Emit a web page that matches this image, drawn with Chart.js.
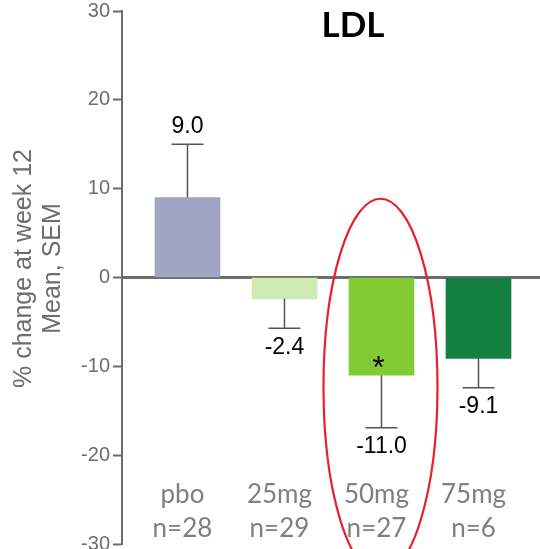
<!DOCTYPE html>
<html>
<head>
<meta charset="utf-8">
<script src="https://cdn.jsdelivr.net/npm/chart.js@4.4.1/dist/chart.umd.min.js"></script>
<style>
  html, body { margin: 0; padding: 0; background: #ffffff; }
  #wrap { width: 540px; height: 549px; position: relative; }
</style>
</head>
<body>
<div id="wrap"><canvas id="chart"></canvas></div>
<script>
// Dose groups and their LDL % change at week 12 (mean, SEM)
const groups = ['pbo', '25mg', '50mg', '75mg'];
const counts = ['n=28', 'n=29', 'n=27', 'n=6'];
const meanChange = [9.0, -2.4, -11.0, -9.1];
const semEnd = [15.0, -5.7, -16.9, -12.4];
const significance = ['', '', '*', ''];
const barColors = ['#a1a5c1', '#cdebb3', '#82cb34', '#148040'];
const yTicks = [-30, -20, -10, 0, 10, 20, 30];
const yTitle = ['% change at week 12', 'Mean, SEM'];
const highlighted = 2;

const axisGrey = '#6d6d6d';

// Zero reference line across the plot
const zeroLine = {
  id: 'zeroLine',
  beforeDatasetsDraw(chart) {
    const { ctx, chartArea, scales: { y } } = chart;
    const py = y.getPixelForValue(0);
    ctx.save();
    ctx.strokeStyle = axisGrey;
    ctx.lineWidth = 3;
    ctx.beginPath();
    ctx.moveTo(chartArea.left, py);
    ctx.lineTo(chartArea.right, py);
    ctx.stroke();
    ctx.restore();
  }
};

// Rotated two-line y axis title
const axisTitle = {
  id: 'axisTitle',
  afterDraw(chart) {
    const { ctx, chartArea } = chart;
    const cy = (chartArea.top + chartArea.bottom) / 2 - 9;
    ctx.save();
    ctx.fillStyle = axisGrey;
    ctx.font = '25px "Liberation Sans", Arial, sans-serif';
    ctx.textAlign = 'center';
    ctx.textBaseline = 'middle';
    ctx.translate(0, cy);
    ctx.rotate(-Math.PI / 2);
    yTitle.forEach((line, i) => ctx.fillText(line, 0, 24 + i * 29));
    ctx.restore();
  }
};

// One-sided SEM whiskers, value labels and significance marks
const barAnnotations = {
  id: 'barAnnotations',
  afterDatasetsDraw(chart) {
    const { ctx, scales: { y } } = chart;
    const meta = chart.getDatasetMeta(0);
    ctx.save();
    meta.data.forEach((bar, i) => {
      const x = bar.x;
      const yBar = y.getPixelForValue(meanChange[i]);
      const yEnd = y.getPixelForValue(semEnd[i]);
      ctx.strokeStyle = '#555555';
      ctx.lineWidth = 1.5;
      ctx.beginPath();
      ctx.moveTo(x, yBar);
      ctx.lineTo(x, yEnd);
      ctx.moveTo(x - 16, yEnd);
      ctx.lineTo(x + 16, yEnd);
      ctx.stroke();

      ctx.fillStyle = '#000000';
      ctx.font = '23px "Liberation Sans", Arial, sans-serif';
      ctx.textAlign = 'center';
      const label = meanChange[i].toFixed(1);
      if (meanChange[i] >= 0) {
        ctx.textBaseline = 'bottom';
        ctx.fillText(label, x, yEnd - 6);
      } else {
        ctx.textBaseline = 'top';
        ctx.fillText(label, x, yEnd + 8);
      }

      if (significance[i]) {
        ctx.font = '32px "Liberation Sans", Arial, sans-serif';
        ctx.textBaseline = 'middle';
        ctx.fillText(significance[i], x - 3, yBar - 6);
      }
    });
    ctx.restore();
  }
};

// Group names and sample sizes along the bottom of the plot
const groupLabels = {
  id: 'groupLabels',
  afterDraw(chart) {
    const { ctx, chartArea } = chart;
    const meta = chart.getDatasetMeta(0);
    ctx.save();
    ctx.fillStyle = '#7f7f7f';
    ctx.font = '26px Lato, "Open Sans", sans-serif';
    ctx.textAlign = 'center';
    ctx.textBaseline = 'alphabetic';
    meta.data.forEach((bar, i) => {
      ctx.fillText(groups[i], bar.x - 5, chartArea.bottom - 41);
      ctx.fillText(counts[i], bar.x - 5, chartArea.bottom - 7);
    });
    ctx.restore();
  }
};

// Red ellipse drawn around the highlighted dose group
const highlightRing = {
  id: 'highlightRing',
  afterDraw(chart) {
    const { ctx, scales: { y } } = chart;
    const bar = chart.getDatasetMeta(0).data[highlighted];
    const cx = bar.x - 1;
    const cy = y.getPixelForValue(-12.3);
    ctx.save();
    ctx.strokeStyle = '#e8202a';
    ctx.lineWidth = 2.2;
    ctx.beginPath();
    ctx.ellipse(cx, cy, 57, 188, 0, 0, Math.PI * 2);
    ctx.stroke();
    ctx.restore();
  }
};

// Chart heading
const heading = {
  id: 'heading',
  afterDraw(chart) {
    const { ctx } = chart;
    ctx.save();
    ctx.fillStyle = '#000000';
    ctx.font = 'bold 35px Lato, "Open Sans", sans-serif';
    ctx.textAlign = 'center';
    ctx.textBaseline = 'alphabetic';
    ctx.fillText('LDL', 353, 37);
    ctx.restore();
  }
};

new Chart(document.getElementById('chart'), {
  type: 'bar',
  data: {
    datasets: [{
      data: meanChange.map((v, i) => ({ x: i, y: v })),
      backgroundColor: barColors,
      borderWidth: 0,
      barThickness: 65
    }]
  },
  options: {
    responsive: true,
    maintainAspectRatio: false,
    animation: false,
    layout: { padding: { top: 11, bottom: 5, left: 0, right: 0 } },
    plugins: {
      legend: { display: false },
      tooltip: { enabled: false }
    },
    scales: {
      x: {
        type: 'linear',
        offset: false,
        min: -0.675,
        max: 3.634,
        display: false
      },
      y: {
        min: -30,
        max: 30,
        afterBuildTicks(scale) {
          scale.ticks = yTicks.map(v => ({ value: v }));
        },
        afterFit(scale) {
          scale.width = 122;
          scale.paddingTop = 0;
          scale.paddingBottom = 0;
        },
        border: { display: true, color: axisGrey, width: 2 },
        grid: {
          drawOnChartArea: false,
          drawTicks: true,
          tickLength: 9,
          tickColor: axisGrey,
          tickWidth: 2
        },
        ticks: {
          color: axisGrey,
          padding: 3,
          font: { family: '"Liberation Sans", Arial, sans-serif', size: 20 }
        }
      }
    }
  },
  plugins: [zeroLine, axisTitle, barAnnotations, groupLabels, highlightRing, heading]
});
</script>
</body>
</html>
